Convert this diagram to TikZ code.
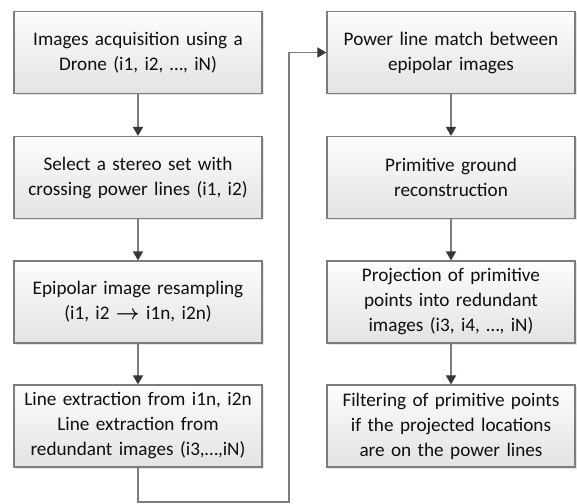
\documentclass[tikz,border=0pt]{standalone}
\usepackage{amsmath}
\usepackage{fontspec}
\setmainfont{Carlito}
\usepackage{tikz}
\usetikzlibrary{positioning}
\usetikzlibrary{arrows.meta}
\usetikzlibrary{shadows}
\definecolor{boxline}{RGB}{125,125,125}
\definecolor{flowline}{RGB}{125,125,125}
\definecolor{headfill}{RGB}{55,55,55}
\definecolor{boxtext}{RGB}{15,15,15}
\tikzset{
    stepbox/.style={draw=boxline, line width=1.2pt, top color=white!99!black, bottom color=white!89!black,
        minimum width=248pt, minimum height=82pt, text width=246pt, inner sep=1pt, align=center,
        text=boxtext, font=\fontsize{19.2}{25}\selectfont,
        drop shadow={opacity=0.2, shadow xshift=1.5pt, shadow yshift=-1.5pt}},
    flow/.style={draw=flowline, line width=1.6pt, -{Triangle[width=10pt,length=9pt,color=headfill]}}
}

\begin{document}
\begin{tikzpicture}[x=1pt,y=1pt]
            \useasboundingbox (0,0) rectangle (577,-503);

            % Left column
            \node[stepbox] (acq) at (138,-52.5) {Images acquisition using a\\Drone (i1, i2, \dots, iN)};
            \node[stepbox] (stereo) at (138,-177.5) {Select a stereo set with\\crossing power lines (i1, i2)};
            \node[stepbox] (epi) at (138,-302) {Epipolar image resampling\\(i1, i2 $\boldsymbol{\rightarrow}$ i1n, i2n)};
            \node[stepbox] (lines) at (138,-426) {Line extraction from i1n, i2n\\Line extraction from\\redundant images (i3,\dots,iN)};

            % Right column
            \node[stepbox] (match) at (451,-52.5) {Power line match between\\epipolar images};
            \node[stepbox] (ground) at (451,-177.5) {Primitive ground\\reconstruction};
            \node[stepbox] (proj) at (451,-302) {Projection of primitive\\points into redundant\\images (i3, i4, \dots, iN)};
            \node[stepbox] (filter) at (451,-426) {Filtering of primitive points\\if the projected locations\\are on the power lines};

            % Arrows
            \draw[flow] (acq) -- (stereo);
            \draw[flow] (stereo) -- (epi);
            \draw[flow] (epi) -- (lines);
            \draw[flow] (match) -- (ground);
            \draw[flow] (ground) -- (proj);
            \draw[flow] (proj) -- (filter);

            % Link between the two columns
            \coordinate (turn) at (289,-502);
            \draw[flow] (lines.south) |- (turn) |- (match.west);
        \end{tikzpicture}
\end{document}
